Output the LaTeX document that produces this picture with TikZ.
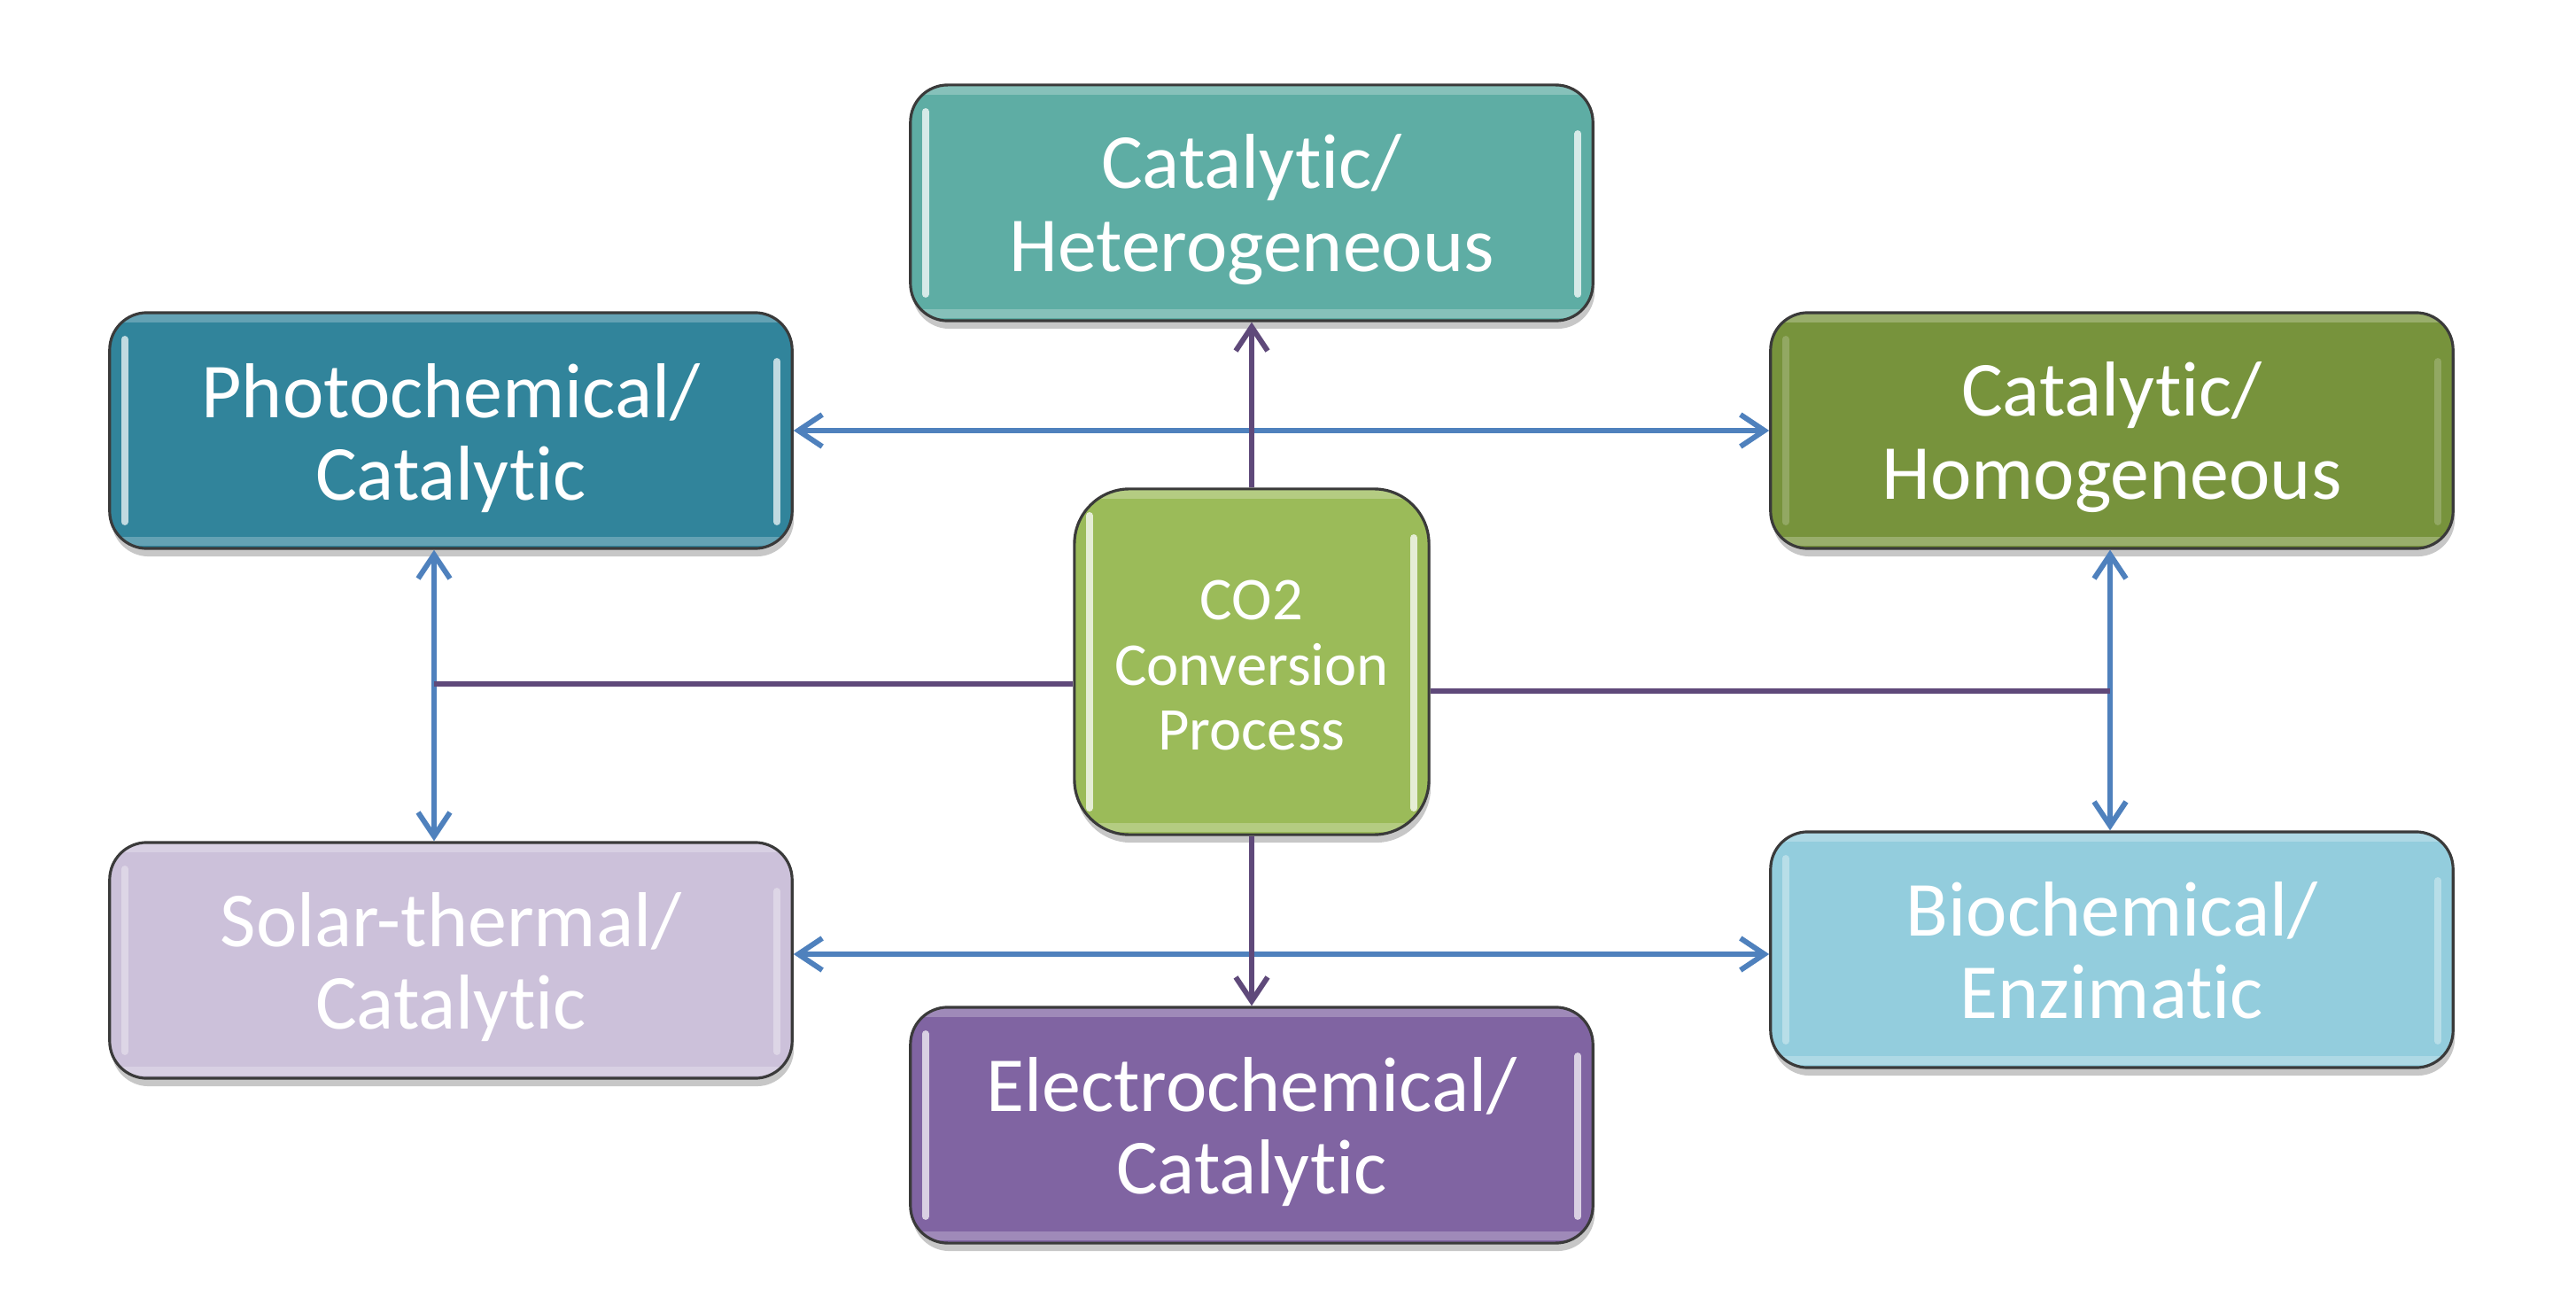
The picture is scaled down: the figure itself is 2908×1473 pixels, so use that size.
\documentclass[tikz,border=0pt]{standalone}
\usepackage{fontspec}
\setmainfont{Carlito}[Ligatures=NoCommon]
\usetikzlibrary{arrows.meta,shadows,calc}
\definecolor{cHet}{HTML}{5EADA4}
\definecolor{cPhoto}{HTML}{31849B}
\definecolor{cHomog}{HTML}{77933C}
\definecolor{cCO}{HTML}{9BBB59}
\definecolor{cSolar}{HTML}{CCC1DA}
\definecolor{cBio}{HTML}{93CDDD}
\definecolor{cElec}{HTML}{8064A2}
\definecolor{cBlue}{HTML}{4F81BD}
\definecolor{cPurp}{HTML}{5F497A}
\definecolor{cEdge}{HTML}{3A3A3A}
\newcommand\boxlbl[2][-3.4pt]{\raisebox{#1}[\height][\depth]{\begin{tabular}{@{}c@{}}#2\end{tabular}}}
\begin{document}
\begin{tikzpicture}[x=0.01cm,y=-0.01cm,
  gloss/.style={path picture={
    \draw[white,opacity=#1,line width=2.2pt,line cap=round]
      ([xshift=0.17cm,yshift=-0.3cm]path picture bounding box.north west) --
      ([xshift=0.17cm,yshift=0.3cm]path picture bounding box.south west);
    \draw[white,opacity=#1,line width=2.2pt,line cap=round]
      ([xshift=-0.17cm,yshift=-0.55cm]path picture bounding box.north east) --
      ([xshift=-0.17cm,yshift=0.3cm]path picture bounding box.south east);
    \draw[white,opacity=0.25,line width=3pt]
      ([yshift=-0.06cm]path picture bounding box.north west) --
      ([yshift=-0.06cm]path picture bounding box.north east);
    \draw[white,opacity=0.25,line width=3pt]
      ([yshift=0.08cm]path picture bounding box.south west) --
      ([yshift=0.08cm]path picture bounding box.south east);}},
  box/.style={draw=cEdge, line width=0.9pt, rounded corners=0.42cm,
    minimum width=7.7cm, minimum height=2.66cm, inner sep=0pt,
    text=white, font=\fontsize{25}{26.5}\selectfont,
    drop shadow={shadow xshift=0.02cm, shadow yshift=-0.09cm, opacity=0.22, fill=black}},
  centerbox/.style={box, rounded corners=0.62cm, minimum width=4.0cm, minimum height=3.9cm,
    font=\fontsize{19.5}{21}\selectfont},
  barrow/.style={draw=cBlue, line width=1.7pt,
    {Straight Barb[length=0.27cm,width=0.36cm]}-{Straight Barb[length=0.27cm,width=0.36cm]}},
  parrow/.style={draw=cPurp, line width=1.7pt, -{Straight Barb[length=0.27cm,width=0.36cm]}},
  pline/.style={draw=cPurp, line width=1.7pt}
]
\useasboundingbox (0,0) rectangle (2908,1473);

\node[box, fill=cHet, gloss=0.75] (het) at (1413,229) {\boxlbl{Catalytic/\\Heterogeneous}};
\node[box, fill=cPhoto, gloss=0.7] (photo) at (509,486) {\boxlbl[-3.8pt]{Photochemical/\\Catalytic}};
\node[box, fill=cHomog, gloss=0.2] (homog) at (2384,486) {\boxlbl{Catalytic/\\Homogeneous}};
\node[centerbox, fill=cCO, gloss=0.75] (co2) at (1413,747) {\boxlbl[-3.2pt]{CO2\\Conversion\\Process}};
\node[box, fill=cSolar, gloss=0.35] (solar) at (509,1084) {\boxlbl{Solar-thermal/\\Catalytic}};
\node[box, fill=cBio, gloss=0.35] (bio) at (2384,1072) {\boxlbl{Biochemical/\\Enzimatic}};
\node[box, fill=cElec, gloss=0.7] (elec) at (1413,1270) {\boxlbl{Electrochemical/\\Catalytic}};

\coordinate (bl) at (0,1077);
\coordinate (jl) at (490,772);
\coordinate (jr) at (2382,780);

% blue connectors
\draw[barrow] (photo.east) -- (homog.west);
\draw[barrow] (solar.east|-bl) -- (bio.west|-bl);
\draw[barrow] (photo.south-|jl) -- (solar.north-|jl);
\draw[barrow] (homog.south-|jr) -- (bio.north-|jr);

% purple connectors
\draw[pline] (co2.west|-jl) -- (jl);
\draw[pline] (co2.east|-jr) -- (jr);
\draw[parrow] (co2.north) -- (het.south);
\draw[parrow] (co2.south) -- (elec.north);
\end{tikzpicture}
\end{document}
